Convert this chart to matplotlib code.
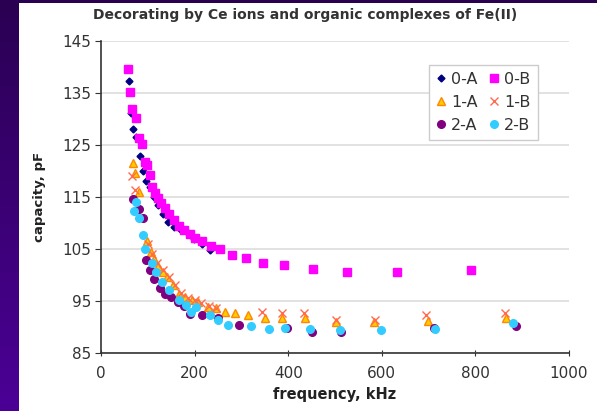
import numpy as np
import matplotlib
matplotlib.use("Agg")
import matplotlib.pyplot as plt
from matplotlib.patches import Rectangle
from matplotlib.colors import LinearSegmentedColormap

# Dados (frequência em kHz, capacidade em pF)
f_0A = [60, 65, 69, 75, 83, 90, 97, 105, 113, 122, 132, 144, 156, 170, 183, 198, 215, 233]
c_0A = [137.4, 131.1, 128.1, 126.5, 122.8, 120.0, 118.0, 116.9, 115.0, 113.4, 111.8,
        110.1, 109.3, 108.7, 108.2, 107.0, 105.9, 104.8]

f_0B = [57, 62, 67, 74, 82, 88, 94, 98, 104, 110, 116, 122, 128, 136, 145, 156, 167,
        178, 190, 201, 215, 234, 254, 280, 310, 347, 391, 453, 526, 632, 790]
c_0B = [139.7, 135.2, 132.0, 130.2, 126.3, 125.2, 121.8, 121.1, 119.3, 117.0, 115.8,
        114.8, 113.8, 112.8, 111.7, 110.5, 109.5, 108.6, 107.8, 107.1, 106.6, 105.6,
        105.0, 103.8, 103.2, 102.4, 102.0, 101.1, 100.6, 100.6, 100.9]

f_1A = [68, 72, 81, 99, 106, 114, 122, 132, 142, 154, 167, 180, 194, 207, 228, 246,
        264, 287, 315, 350, 386, 435, 502, 584, 699, 866]
c_1A = [121.5, 119.6, 115.9, 106.6, 104.5, 103.0, 101.7, 100.6, 99.7, 98.0, 96.4,
        95.8, 95.2, 94.8, 93.9, 93.6, 92.9, 92.6, 92.3, 91.8, 91.8, 91.8, 90.9, 90.9,
        91.2, 91.8]

f_1B = [66, 73, 100, 110, 120, 132, 145, 158, 172, 186, 200, 214, 230, 246, 345, 386,
        433, 502, 585, 695, 864]
c_1B = [119.1, 116.4, 106.0, 104.0, 102.3, 100.9, 99.6, 98.0, 96.6, 95.6, 95.2, 94.6,
        94.0, 93.7, 92.9, 92.6, 92.6, 91.4, 91.4, 92.3, 92.6]

f_2A = [69, 81, 89, 96, 105, 114, 125, 136, 150, 165, 178, 191, 215, 250, 295, 397,
        450, 513, 711, 886]
c_2A = [114.6, 112.7, 110.9, 102.9, 101.0, 99.3, 97.5, 96.3, 95.7, 94.8, 94.0, 92.5,
        92.3, 91.8, 90.3, 89.8, 89.1, 89.1, 89.8, 90.2]

f_2B = [71, 75, 82, 89, 95, 108, 118, 130, 146, 167, 181, 193, 203, 232, 250, 272, 321,
        358, 394, 447, 511, 598, 713, 880]
c_2B = [112.4, 114.1, 110.9, 107.7, 105.0, 102.4, 100.6, 98.7, 97.1, 95.2, 94.2, 92.9,
        93.9, 92.3, 91.3, 90.3, 90.1, 89.7, 89.9, 89.7, 89.4, 89.4, 89.7, 90.7]

x_ticks = [0, 200, 400, 600, 800, 1000]
y_ticks = [85, 95, 105, 115, 125, 135, 145]

fig = plt.figure(figsize=(5.97, 4.11), dpi=100)

# Fundo roxo em degradê + painel branco
bg = fig.add_axes([0, 0, 1, 1], zorder=-10)
cmap = LinearSegmentedColormap.from_list("roxo", ["#2a0052", "#4b0096"])
bg.imshow(np.linspace(0, 1, 256).reshape(-1, 1), aspect="auto", cmap=cmap,
          extent=[0, 1, 0, 1])
bg.add_patch(Rectangle((19 / 597, 0), 1, 1 - 3 / 411, transform=bg.transAxes,
                       facecolor="white", edgecolor="none"))
bg.set_xlim(0, 1)
bg.set_ylim(0, 1)
bg.axis("off")

ax = fig.add_axes([101 / 597, 1 - 353 / 411, 468 / 597, 312 / 411])
ax.set_facecolor("none")

ax.plot(f_0A, c_0A, "D", color="#000080", ms=3.5, label="0-A", zorder=3)
ax.plot(f_0B, c_0B, "s", color="#ff00ff", ms=5.8, label="0-B", zorder=3)
ax.plot(f_1A, c_1A, "^", mfc="#ffcc00", mec="#ff8800", ms=5.5, label="1-A", zorder=3)
ax.plot(f_1B, c_1B, "x", color="#ff6a50", ms=5.5, mew=1.0, label="1-B", zorder=3)
ax.plot(f_2A, c_2A, "o", color="#800080", ms=5.5, label="2-A", zorder=3)
ax.plot(f_2B, c_2B, "o", color="#33ccff", ms=5.5, label="2-B", zorder=3)

ax.set_xlim(0, 1000)
ax.set_ylim(85, 145)
ax.set_xticks(x_ticks)
ax.set_yticks(y_ticks)
ax.yaxis.grid(True, color="#dddddd", lw=1.2)
ax.set_axisbelow(True)

for s in ["top", "right"]:
    ax.spines[s].set_visible(False)
for s in ["left", "bottom"]:
    ax.spines[s].set_color("#333333")
    ax.spines[s].set_linewidth(1.2)
ax.tick_params(axis="y", direction="out", length=4, colors="#333333", labelsize=11,
               pad=3)
ax.tick_params(axis="x", direction="inout", length=5, colors="#333333", labelsize=11,
               pad=7)

ax.set_xlabel("frequency, kHz", fontsize=10.5, fontweight="bold", color="#222222",
              labelpad=4)
ax.set_ylabel("capacity, pF", fontsize=9.5, fontweight="bold", color="#222222",
              labelpad=12)
fig.text(305 / 597, 1 - 15 / 411, "Decorating by Ce ions and organic complexes of Fe(II)",
         ha="center", va="center", fontsize=10, fontweight="bold", color="#333333")

h, l = ax.get_legend_handles_labels()
ordem = [0, 2, 4, 1, 3, 5]
leg = ax.legend([h[i] for i in ordem], [l[i] for i in ordem], ncol=2, loc="upper right",
                bbox_to_anchor=(0.95, 0.95), fancybox=False, framealpha=1,
                edgecolor="#cccccc", fontsize=11.5, handlelength=0.7, handletextpad=0.25,
                columnspacing=0.7, borderpad=0.45, labelspacing=0.5)
for t in leg.get_texts():
    t.set_color("#333333")

fig.savefig("out.png", dpi=100)
